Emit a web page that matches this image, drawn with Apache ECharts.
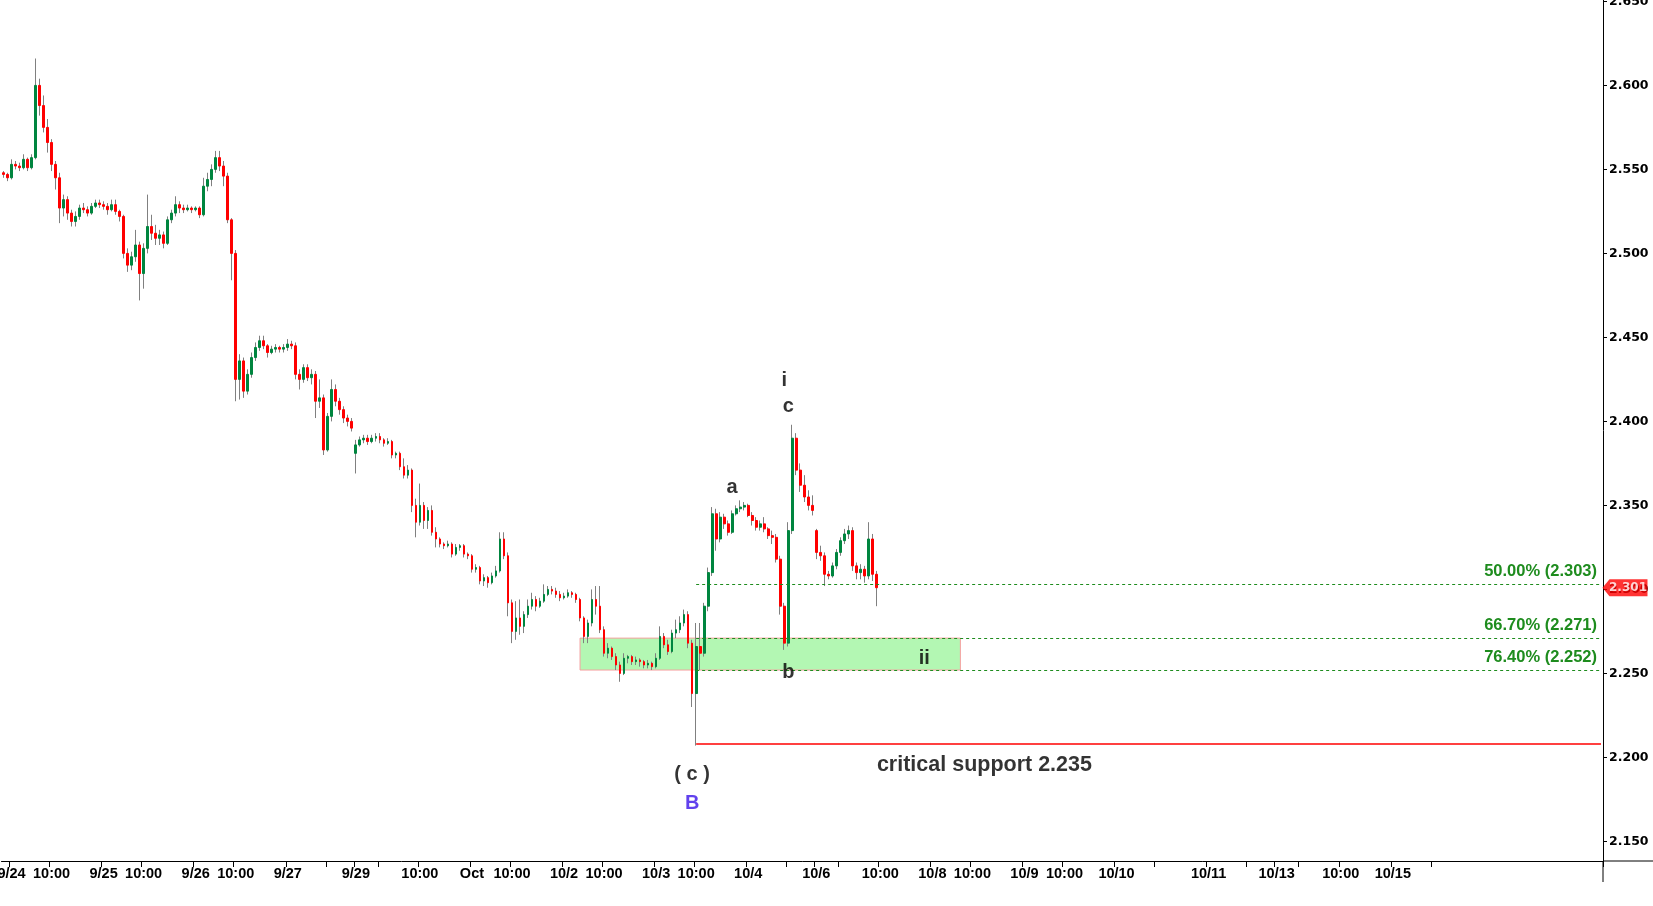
<!DOCTYPE html>
<html><head><meta charset="utf-8">
<script src="https://cdn.jsdelivr.net/npm/echarts@6/dist/echarts.min.js"></script>
<style>html,body{margin:0;padding:0;background:#fff}#c{width:1653px;height:906px}</style>
</head><body><div id="c"></div>
<script>
// ---- hourly OHLC, one entry per trading hour, starting 9/23 22:00 ----
const opens = [
2.548,2.547,2.545,2.553,2.552,2.551,2.556,2.551,2.557,2.600,
2.588,2.575,2.566,2.553,2.545,2.527,2.532,2.524,2.519,2.522,
2.527,2.526,2.524,2.528,2.530,2.529,2.528,2.526,2.529,2.525,
2.522,2.500,2.493,2.498,2.505,2.488,2.503,2.516,2.512,2.509,
2.511,2.506,2.520,2.524,2.529,2.527,2.526,2.527,2.526,2.527,
2.523,2.540,2.544,2.550,2.557,2.552,2.546,2.520,2.500,2.425,
2.436,2.418,2.428,2.438,2.444,2.448,2.445,2.441,2.443,2.444,
2.443,2.444,2.446,2.445,2.428,2.425,2.432,2.426,2.428,2.412,
2.414,2.383,2.403,2.419,2.412,2.407,2.402,2.400,2.381,2.386,
2.389,2.390,2.388,2.390,2.391,2.389,2.387,2.388,2.380,2.381,
2.373,2.368,2.371,2.350,2.340,2.350,2.341,2.347,2.334,2.330,
2.327,2.326,2.327,2.321,2.325,2.326,2.321,2.320,2.312,2.313,
2.305,2.307,2.304,2.308,2.311,2.330,2.320,2.292,2.275,2.283,
2.278,2.285,2.290,2.294,2.290,2.293,2.297,2.300,2.299,2.297,
2.295,2.296,2.298,2.297,2.294,2.283,2.272,2.280,2.294,2.290,
2.276,2.262,2.265,2.260,2.255,2.250,2.259,2.260,2.257,2.258,
2.257,2.255,2.256,2.254,2.259,2.272,2.267,2.263,2.274,2.276,
2.280,2.285,2.268,2.238,2.266,2.262,2.290,2.310,2.345,2.330,
2.343,2.339,2.334,2.345,2.348,2.349,2.350,2.344,2.341,2.337,
2.339,2.336,2.332,2.331,2.318,2.290,2.268,2.335,2.390,2.371,
2.362,2.355,2.350,2.335,2.322,2.320,2.309,2.308,2.314,2.322,
2.329,2.333,2.335,2.314,2.310,2.312,2.308,2.330,2.309
];
const closes = [
2.547,2.545,2.553,2.552,2.551,2.556,2.551,2.557,2.600,2.588,
2.575,2.566,2.553,2.545,2.527,2.532,2.524,2.519,2.522,2.527,
2.526,2.524,2.528,2.530,2.529,2.528,2.526,2.529,2.525,2.522,
2.500,2.493,2.498,2.505,2.488,2.503,2.516,2.512,2.509,2.511,
2.506,2.520,2.524,2.529,2.527,2.526,2.527,2.526,2.527,2.523,
2.540,2.544,2.550,2.557,2.552,2.546,2.520,2.500,2.425,2.436,
2.418,2.428,2.438,2.444,2.448,2.445,2.441,2.443,2.444,2.443,
2.444,2.446,2.445,2.428,2.425,2.432,2.426,2.428,2.412,2.414,
2.383,2.403,2.419,2.412,2.407,2.402,2.400,2.396,2.386,2.389,
2.390,2.388,2.390,2.391,2.389,2.387,2.388,2.380,2.381,2.373,
2.368,2.371,2.350,2.340,2.350,2.341,2.347,2.334,2.330,2.327,
2.326,2.327,2.321,2.325,2.326,2.321,2.320,2.312,2.313,2.305,
2.307,2.304,2.308,2.311,2.330,2.320,2.292,2.275,2.283,2.278,
2.285,2.290,2.294,2.290,2.293,2.297,2.300,2.299,2.297,2.295,
2.296,2.298,2.297,2.294,2.283,2.272,2.280,2.294,2.290,2.276,
2.262,2.265,2.260,2.255,2.250,2.259,2.260,2.257,2.258,2.257,
2.255,2.256,2.254,2.259,2.272,2.267,2.263,2.274,2.276,2.280,
2.285,2.268,2.238,2.266,2.262,2.290,2.310,2.345,2.330,2.343,
2.339,2.334,2.345,2.348,2.349,2.350,2.344,2.341,2.337,2.339,
2.336,2.332,2.331,2.318,2.290,2.268,2.335,2.390,2.371,2.362,
2.355,2.350,2.347,2.322,2.320,2.309,2.308,2.314,2.322,2.329,
2.333,2.335,2.314,2.310,2.312,2.308,2.330,2.309,2.301
];
const lows = [
2.545,2.543,2.544,2.550,2.549,2.550,2.549,2.550,2.556,2.582,
2.572,2.560,2.549,2.538,2.518,2.522,2.520,2.516,2.516,2.520,
2.524,2.522,2.523,2.527,2.527,2.526,2.523,2.525,2.523,2.519,
2.497,2.489,2.490,2.495,2.472,2.479,2.500,2.508,2.505,2.505,
2.503,2.505,2.518,2.522,2.524,2.524,2.525,2.524,2.525,2.521,
2.522,2.537,2.540,2.548,2.549,2.540,2.518,2.484,2.412,2.413,
2.414,2.416,2.426,2.436,2.442,2.443,2.438,2.440,2.441,2.441,
2.441,2.442,2.443,2.425,2.419,2.423,2.424,2.422,2.402,2.408,
2.380,2.382,2.400,2.409,2.404,2.399,2.397,2.394,2.369,2.385,
2.387,2.386,2.387,2.388,2.387,2.385,2.386,2.378,2.378,2.371,
2.366,2.366,2.346,2.331,2.338,2.336,2.336,2.332,2.325,2.325,
2.324,2.325,2.319,2.320,2.323,2.319,2.318,2.310,2.310,2.303,
2.302,2.301,2.303,2.307,2.310,2.318,2.284,2.268,2.270,2.273,
2.274,2.283,2.288,2.287,2.289,2.292,2.296,2.297,2.295,2.293,
2.294,2.295,2.295,2.292,2.281,2.268,2.268,2.278,2.285,2.274,
2.260,2.259,2.258,2.252,2.245,2.249,2.256,2.255,2.255,2.254,
2.253,2.253,2.252,2.253,2.258,2.265,2.261,2.262,2.271,2.274,
2.278,2.265,2.230,2.207,2.252,2.260,2.287,2.308,2.323,2.328,
2.336,2.332,2.333,2.344,2.346,2.347,2.343,2.338,2.335,2.335,
2.334,2.330,2.327,2.316,2.285,2.264,2.266,2.333,2.368,2.358,
2.352,2.347,2.344,2.318,2.317,2.302,2.306,2.307,2.312,2.320,
2.327,2.330,2.311,2.306,2.306,2.304,2.306,2.305,2.290
];
const highs = [
2.549,2.548,2.556,2.555,2.554,2.559,2.557,2.559,2.616,2.604,
2.594,2.580,2.568,2.555,2.548,2.535,2.534,2.526,2.525,2.529,
2.530,2.528,2.530,2.532,2.532,2.531,2.530,2.532,2.532,2.526,
2.523,2.503,2.501,2.514,2.507,2.506,2.535,2.523,2.517,2.514,
2.513,2.522,2.526,2.534,2.531,2.529,2.529,2.528,2.528,2.528,
2.545,2.548,2.553,2.561,2.561,2.555,2.548,2.521,2.502,2.440,
2.438,2.431,2.441,2.447,2.451,2.451,2.446,2.445,2.446,2.445,
2.446,2.449,2.448,2.447,2.431,2.434,2.434,2.431,2.430,2.425,
2.416,2.405,2.425,2.422,2.414,2.409,2.404,2.402,2.389,2.391,
2.392,2.392,2.392,2.393,2.393,2.390,2.390,2.389,2.382,2.382,
2.378,2.374,2.372,2.354,2.363,2.352,2.349,2.350,2.337,2.331,
2.328,2.329,2.328,2.327,2.327,2.327,2.322,2.321,2.315,2.314,
2.309,2.308,2.310,2.314,2.334,2.334,2.322,2.294,2.293,2.294,
2.287,2.294,2.298,2.296,2.295,2.303,2.302,2.302,2.301,2.299,
2.298,2.300,2.299,2.298,2.295,2.284,2.282,2.300,2.302,2.302,
2.278,2.268,2.266,2.262,2.257,2.262,2.261,2.261,2.260,2.259,
2.258,2.258,2.257,2.262,2.278,2.274,2.270,2.276,2.282,2.284,
2.288,2.287,2.270,2.280,2.280,2.292,2.313,2.349,2.348,2.346,
2.345,2.341,2.347,2.350,2.353,2.352,2.351,2.346,2.343,2.341,
2.343,2.337,2.335,2.333,2.320,2.292,2.340,2.398,2.393,2.375,
2.368,2.359,2.356,2.336,2.326,2.322,2.311,2.316,2.324,2.331,
2.336,2.338,2.337,2.316,2.315,2.314,2.340,2.333,2.311
];

// ---- axis: hourly trading slots ----
const slotCount = 400;
const tickSlots  = [2,12,25,35,48,58,71,81,88,94,104,117,127,140,150,163,173,186,196,203,209,219,232,242,255,265,278,288,301,311,318,324,334,347,357];
const tickLabels = ['9/24','10:00','9/25','10:00','9/26','10:00','9/27','','9/29','','10:00','Oct','10:00','10/2','10:00','10/3','10:00','10/4','','10/6','','10:00','10/8','10:00','10/9','10:00','10/10','','10/11','','10/13','','10:00','10/15',''];
const yMin = 2.13833, yMax = 2.65083;

// ---- levels / zone ----
const fibLevels = [2.303, 2.271, 2.252];
const fibTexts  = ['50.00% (2.303)', '66.70% (2.271)', '76.40% (2.252)'];
const lineStartSlot = 173;
const supportLevel = 2.208;
const zoneSlots = [144, 239];
const zoneRange = [2.252, 2.271];
const lastPrice = 2.301;

// ---- wave annotations ----
const annotTexts  = ['i', 'c', 'a', 'b', 'ii', '( c )', 'B', 'critical support 2.235'];
const annotSlots  = [195, 196, 182, 196, 230, 172, 172, 245];
const annotValues = [2.4242, 2.4091, 2.3607, 2.2508, 2.2590, 2.1901, 2.1723, 2.1955];
const annotColors = ['#000','#000','#000','#000','#000','#000','#3a12e8','#000'];
const annotSizes  = [20, 20, 20, 20, 20, 20, 20, 21.5];

const categories = Array.from({length: slotCount}, (_, i) => String(i));
const labelMap = {};
tickSlots.forEach((s, i) => { labelMap[s] = tickLabels[i]; });
const tickSet = new Set(tickSlots);
const candleFull = opens.map((o, i) => [o, closes[i], lows[i], highs[i]]);
const candleBody = opens.map((o, i) => [o, closes[i], Math.min(o, closes[i]), Math.max(o, closes[i])]);

const GREEN = '#1e8c1e';
const FONT = "'Liberation Sans', Arial, sans-serif";
const chart = echarts.init(document.getElementById('c'), null, {renderer: 'canvas'});
chart.setOption({
  animation: false,
  backgroundColor: '#fff',
  grid: {left: 1.5, right: 50, top: 0, bottom: 45, containLabel: false, outerBoundsMode: 'none'},
  xAxis: {
    type: 'category', data: categories, boundaryGap: true,
    axisLine: {show: true, lineStyle: {color: '#000', width: 1}},
    axisTick: {show: true, length: 6, lineStyle: {color: '#000'}, interval: (i) => tickSet.has(i)},
    axisLabel: {
      show: true, interval: (i) => tickSet.has(i), hideOverlap: false, margin: 5,
      showMinLabel: true, showMaxLabel: true,
      formatter: (v) => labelMap[Number(v)] || '',
      color: '#000', fontWeight: 'bold', fontSize: 14.5, fontFamily: FONT
    },
    splitLine: {show: false}
  },
  yAxis: {
    type: 'value', position: 'right', min: yMin, max: yMax, scale: true,
    splitNumber: 10, minInterval: 0.05, maxInterval: 0.05,
    axisLine: {show: true, lineStyle: {color: '#000', width: 1}},
    axisTick: {show: true, length: 4, inside: false, lineStyle: {color: '#000'}},
    axisLabel: {
      show: true, margin: 6, showMinLabel: false, showMaxLabel: false, hideOverlap: false,
      formatter: (v) => v.toFixed(3), color: '#000', fontWeight: 'bold', fontSize: 12.5,
      fontFamily: "'DejaVu Sans', sans-serif"
    },
    splitLine: {show: false}
  },
  graphic: [
    {type: 'line', shape: {x1: 1603, y1: 861, x2: 1653, y2: 861}, style: {stroke: '#000', lineWidth: 1}, silent: true},
    {type: 'line', shape: {x1: 1603, y1: 861, x2: 1603, y2: 882}, style: {stroke: '#000', lineWidth: 1}, silent: true}
  ],
  series: [
    {
      type: 'line', data: closes, symbol: 'none', silent: true, z: 1,
      lineStyle: {opacity: 0},
      markArea: {
        silent: true,
        itemStyle: {color: '#b3f7b3', borderColor: '#f5a0a0', borderWidth: 1},
        data: [[{coord: [zoneSlots[0], zoneRange[1]]}, {coord: [zoneSlots[1], zoneRange[0]]}]]
      }
    },
    {
      type: 'candlestick', data: candleFull, barWidth: 0.6, z: 3, silent: true,
      itemStyle: {color: '#808080', color0: '#808080', borderColor: '#808080', borderColor0: '#808080', borderWidth: 1}
    },
    {
      type: 'candlestick', data: candleBody, barWidth: 2.2, z: 4, silent: true,
      itemStyle: {color: '#00853f', color0: '#ff0000', borderColor: '#00853f', borderColor0: '#ff0000', borderWidth: 1},
      markLine: {
        silent: true, symbol: ['none', 'none'],
        data: fibLevels.map((lv, i) => [
          {coord: [lineStartSlot, lv],
           lineStyle: {color: GREEN, width: 1, type: [3, 3]},
           label: {show: true, position: 'insideEndTop', distance: 4, formatter: fibTexts[i],
                   color: GREEN, fontWeight: 'bold', fontSize: 16.5, fontFamily: FONT}},
          {coord: [slotCount - 1, lv]}
        ]).concat([[
          {coord: [lineStartSlot, supportLevel], lineStyle: {color: '#ff0000', width: 1.5, type: 'solid'}, label: {show: false}},
          {coord: [slotCount - 1, supportLevel]}
        ]])
      }
    },
    {
      type: 'scatter', z: 6, silent: true, clip: false,
      symbol: 'rect', symbolSize: 1,
      itemStyle: {color: 'rgba(0,0,0,0)'},
      data: annotTexts.map((t, i) => ({
        value: [annotSlots[i], annotValues[i]],
        label: {show: true, position: 'inside', formatter: t, color: annotColors[i],
                fontSize: annotSizes[i], fontWeight: 'bold', fontFamily: FONT}
      }))
    },
    {
      type: 'scatter', z: 7, silent: true, clip: false,
      symbol: 'path://M0,8.5 L7,0 L45,0 L45,17 L7,17 Z', symbolSize: [45, 17], symbolOffset: [24, 0],
      itemStyle: {color: '#ff0000'},
      data: [{value: [slotCount - 1, lastPrice]}],
      label: {show: true, position: 'inside', offset: [3, 0], formatter: lastPrice.toFixed(3), color: '#fff',
              fontWeight: 'bold', fontSize: 12, fontFamily: "'DejaVu Sans', sans-serif"}
    }
  ]
});
</script>
</body></html>
